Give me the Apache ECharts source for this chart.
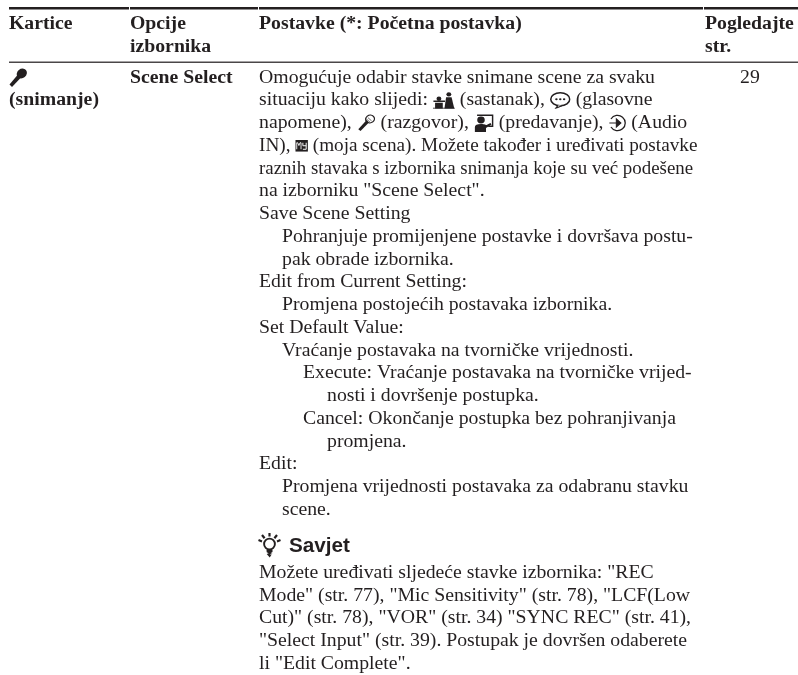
<!DOCTYPE html>
<html>
<head>
<meta charset="utf-8">
<script src="https://cdn.jsdelivr.net/npm/echarts@6/dist/echarts.min.js"></script>
<style>html,body{margin:0;padding:0;background:#fff}#main{width:798px;height:675px}</style>
</head>
<body>
<div id="main"></div>
<script>
// sadrzaj tablice
const headers = [['Kartice'], ['Opcije', 'izbornika'], ['Postavke (*: Početna postavka)'], ['Pogledajte', 'str.']];
const tabLines = ['{micSolid|}', '(snimanje)'];
const optionName = 'Scene Select';
const pageRef = '29';
// [uvlaka, tekst]
const settingLines = [
  [0, 'Omogućuje odabir stavke snimane scene za svaku'],
  [0, 'situaciju kako slijedi: {meeting|} (sastanak), {bubble|} (glasovne'],
  [0, 'napomene), {mic|} (razgovor), {lecture|} (predavanje), {audio|} (Audio'],
  [0, 'IN), {my|} (moja scena). Možete također i uređivati postavke'],
  [0, 'raznih stavaka s izbornika snimanja koje su već podešene'],
  [0, 'na izborniku "Scene Select".'],
  [0, 'Save Scene Setting'],
  [1, 'Pohranjuje promijenjene postavke i dovršava postu-'],
  [1, 'pak obrade izbornika.'],
  [0, 'Edit from Current Setting:'],
  [1, 'Promjena postojećih postavaka izbornika.'],
  [0, 'Set Default Value:'],
  [1, 'Vraćanje postavaka na tvorničke vrijednosti.'],
  [2, 'Execute: Vraćanje postavaka na tvorničke vrijed-'],
  [3, 'nosti i dovršenje postupka.'],
  [2, 'Cancel: Okončanje postupka bez pohranjivanja'],
  [3, 'promjena.'],
  [0, 'Edit:'],
  [1, 'Promjena vrijednosti postavaka za odabranu stavku'],
  [1, 'scene.']
];
const tipTitle = 'Savjet';
const tipLines = [
  'Možete uređivati sljedeće stavke izbornika: "REC',
  'Mode" (str. 77), "Mic Sensitivity" (str. 78), "LCF(Low',
  'Cut)" (str. 78), "VOR" (str. 34) "SYNC REC" (str. 41),',
  '"Select Input" (str. 39). Postupak je dovršen odaberete',
  'li "Edit Complete".'
];

const SERIF = '"Liberation Serif","Times New Roman",serif';
const INK = '#231f20';
const LINE_H = 22.75;
const FONT = 19.75;
// ova dva reda su u originalu zbijenija
const lineFit = { 3: 0.973, 4: 0.956 };

function svgUrl(w, h, body) {
  return 'data:image/svg+xml;charset=utf-8,' + encodeURIComponent(
    '<svg xmlns="http://www.w3.org/2000/svg" width="' + w + '" height="' + h + '" viewBox="0 0 ' + w + ' ' + h + '">' + body + '</svg>');
}
function icon(w, h, body, boxW) {
  return { width: boxW || w, height: h, align: 'center', verticalAlign: 'middle', backgroundColor: { image: svgUrl(w, h, body) } };
}
const icons = {
  micSolid: icon(19, 20,
    '<ellipse cx="12.8" cy="6" rx="5.4" ry="4.6" fill="#231f20" transform="rotate(-40 12.8 6)"/>' +
    '<path d="M8.5 7.5 L11.5 10.5 L3 19.5 L0.5 17Z" fill="#231f20"/>'),
  mic: icon(17, 18,
    '<ellipse cx="12" cy="5" rx="4" ry="3.8" fill="#fff" stroke="#231f20" stroke-width="1.2" transform="rotate(-40 12 5)"/>' +
    '<path d="M9 6 L11 8.5 L3.500 17 L1.500 15.200Z" fill="#231f20"/><path d="M10 3.500l3.400 3.400M8.800 5l3.400 3.400" stroke="#231f20" stroke-width=".6"/>', 19),
  meeting: icon(20, 17,
    '<circle cx="5.5" cy="7" r="2.2" fill="#231f20"/><circle cx="14.5" cy="2.6" r="2.2" fill="#231f20"/>' +
    '<path d="M2 11h7v6H2z" fill="#231f20"/><path d="M0.5 9.5H11" stroke="#231f20" stroke-width="1.4"/>' +
    '<path d="M12 5.5h5l2.5 11.5H10.5z" fill="#231f20"/><path d="M0 16.5h20" stroke="#231f20"/>', 22),
  bubble: icon(19, 17,
    '<ellipse cx="9.5" cy="7.5" rx="8.6" ry="6.5" fill="#fff" stroke="#231f20" stroke-width="1.4"/>' +
    '<path d="M7.5 13.5 L5.5 16.5 L11 14" fill="#fff" stroke="#231f20" stroke-width="1.2"/>' +
    '<circle cx="6" cy="7.5" r="1.1" fill="#231f20"/><circle cx="9.5" cy="7.5" r="1.1" fill="#231f20"/><circle cx="13" cy="7.5" r="1.1" fill="#231f20"/>', 21),
  lecture: icon(18, 18,
    '<path d="M3 1.2h14v11h-4" fill="#fff" stroke="#231f20" stroke-width="1.4"/>' +
    '<circle cx="6.5" cy="6" r="3.4" fill="#231f20"/><path d="M1 18v-5c0-2 2-3 5.5-3s4 1 5 1l3.500-2 1 1.600-5 3.400v4z" fill="#231f20"/>', 20),
  audio: icon(18, 18,
    '<path d="M2.6 5A7.7 7.7 0 1 1 2.6 13" fill="none" stroke="#231f20" stroke-width="1.3"/>' +
    '<path d="M1 9h10M8 5 L12.500 9 L8 13Z" fill="#231f20" stroke="#231f20" stroke-width="1.1"/>'),
  my: icon(13, 12,
    '<rect width="13" height="12" fill="#231f20"/>' +
    '<path d="M1.5 9.500V3h1l1.200 2.800L4.900 3h1v6.500" fill="none" stroke="#fff" stroke-width=".9"/>' +
    '<path d="M7.800 3v3h3.400M11.200 3v6.500H7.800" fill="none" stroke="#fff" stroke-width="1"/>')
};

function textEl(x, y, str, extra, scaleX) {
  return {
    type: 'text', x: x, y: y, scaleX: scaleX || 1, silent: true,
    style: Object.assign({
      text: str, fill: INK, font: FONT + 'px ' + SERIF, verticalAlign: 'middle', rich: icons
    }, extra || {})
  };
}
function rule(x, y, w, h, color) {
  return { type: 'rect', silent: true, shape: { x: x, y: y, width: w, height: h }, style: { fill: color } };
}

const elements = [];
const headX = [9, 130, 259, 705];
const indents = [0, 23, 44, 68];
const boldFont = 'bold ' + FONT + 'px ' + SERIF;

// linije
[[9, 120], [130, 128], [259, 444], [704, 94]].forEach(function (s) {
  elements.push(rule(s[0], 7, s[1], 2.6, '#231f20'));
});
elements.push(rule(9, 61.5, 789, 1.6, '#4a4748'));

// zaglavlje
headers.forEach(function (lines, c) {
  lines.forEach(function (t, i) {
    elements.push(textEl(headX[c], 24 + i * 23, t, { font: boldFont }));
  });
});

// prvi red
tabLines.forEach(function (t, i) {
  elements.push(textEl(headX[0], 77.5 + i * LINE_H, t, { font: boldFont }));
});
elements.push(textEl(headX[1], 77.5, optionName, { font: boldFont }));
elements.push(textEl(740, 77.5, pageRef));

settingLines.forEach(function (l, i) {
  elements.push(textEl(headX[2] + indents[l[0]], 77.5 + i * LINE_H, l[1], null, lineFit[i]));
});

// savjet
elements.push({
  type: 'image', silent: true, x: 258, y: 533, style: {
    image: svgUrl(23, 26,
      '<circle cx="11.5" cy="11" r="5.4" fill="none" stroke="#231f20" stroke-width="1.9"/>' +
      '<path d="M8.5 17h6v2l-2 1.2h2l-3 1.4h2.2l-2 3-3-3.6 2-.8-2-1z" fill="#231f20"/>' +
      '<path d="M.5 7l3.5 1.4M4 2l2.6 3.2M11.5 0v3.6M19 2l-2.6 3.2M22.500 7L19 8.400" stroke="#231f20" stroke-width="2.2" fill="none"/>'),
    width: 23, height: 26
  }
});
elements.push(textEl(289, 546, tipTitle, { font: 'bold 20.7px "Liberation Sans",Arial,sans-serif' }));
tipLines.forEach(function (t, i) {
  elements.push(textEl(headX[2], 573 + i * 22.6, t));
});

const chart = echarts.init(document.getElementById('main'), null, { renderer: 'canvas' });
chart.setOption({
  backgroundColor: '#fff',
  animation: false,
  graphic: { elements: elements }
});
</script>
</body>
</html>
